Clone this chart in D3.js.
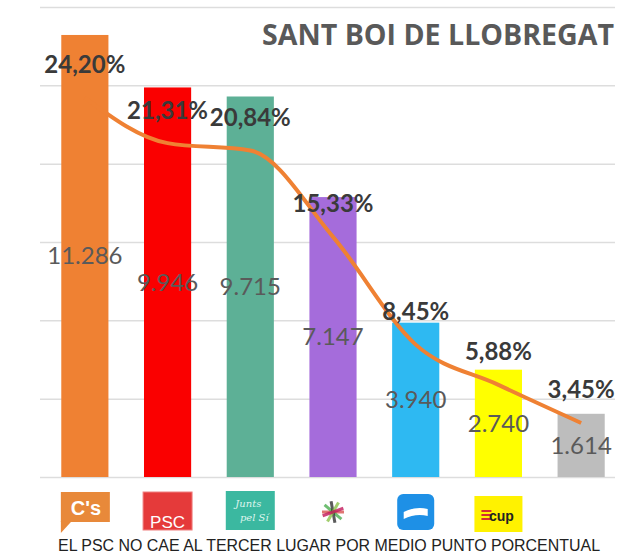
<!DOCTYPE html>
<html>
<head>
<meta charset="utf-8">
<script src="https://cdn.jsdelivr.net/npm/d3@7"></script>
<style>
  body { margin: 0; background: #fff; }
  svg { display: block; }
</style>
</head>
<body>
<div id="chart"></div>
<script>
// datos
const partidos = ["Cs", "PSC", "JxSi", "CSQP", "PP", "CUP", "Unio"];
const votos = [11286, 9946, 9715, 7147, 3940, 2740, 1614];
const porcentajes = [24.20, 21.31, 20.84, 15.33, 8.45, 5.88, 3.45];
const colores = ["#EF8133", "#FA0000", "#5DB096", "#A56CDB", "#2EB9F2", "#FFFF00", "#BDBDBD"];
const votosTicks = [0, 2000, 4000, 6000, 8000, 10000, 12000];
const titulo = "SANT BOI DE LLOBREGAT";
const pie = "EL PSC NO CAE AL TERCER LUGAR POR MEDIO PUNTO PORCENTUAL";

const fmtPct = d => d.toFixed(2).replace(".", ",") + "%";
const fmtVotos = d => d3.format(",")(d).replace(",", ".");

const width = 623, height = 558;
const svg = d3.select("#chart").append("svg")
  .attr("width", width)
  .attr("height", height);

const x = d3.scaleBand()
  .domain(partidos)
  .range([43.5, 622.5])
  .paddingInner(0.43)
  .paddingOuter(0.215);

const yVotos = d3.scaleLinear().domain([0, 12000]).range([477, 7]);
const yPct = d3.scaleLinear().domain([0, 30]).range([477, 7]);

// lineas de cuadricula
const grid = svg.append("g")
  .attr("transform", "translate(40,0)")
  .call(d3.axisLeft(yVotos).tickValues(votosTicks).tickSize(-575).tickFormat(""));
grid.select(".domain").remove();
grid.selectAll("line").attr("stroke", "#DDDDDD").attr("stroke-width", 1.5);

// titulo
svg.append("text")
  .attr("x", 614).attr("y", 45)
  .attr("text-anchor", "end")
  .attr("font-family", "Open Sans")
  .attr("font-weight", "bold")
  .attr("font-size", 28)
  .attr("textLength", 352)
  .attr("lengthAdjust", "spacingAndGlyphs")
  .attr("fill", "#595959")
  .text(titulo);

// barras
svg.selectAll(".bar")
  .data(partidos)
  .join("rect")
  .attr("class", "bar")
  .attr("x", d => x(d))
  .attr("width", x.bandwidth())
  .attr("y", (d, i) => yVotos(votos[i]))
  .attr("height", (d, i) => yVotos(0) - yVotos(votos[i]))
  .attr("fill", (d, i) => colores[i]);

// linea de porcentaje
const linea = d3.line()
  .x((d, i) => x(partidos[i]) + x.bandwidth() / 2)
  .y(d => yPct(d))
  .curve(d3.curveMonotoneX);

svg.append("path")
  .datum(porcentajes)
  .attr("d", linea)
  .attr("fill", "none")
  .attr("stroke", "#EF8133")
  .attr("stroke-width", 4)
  .attr("stroke-linejoin", "round");

// votos en el centro de la barra
svg.selectAll(".votos")
  .data(votos)
  .join("text")
  .attr("class", "votos")
  .attr("x", (d, i) => x(partidos[i]) + x.bandwidth() / 2)
  .attr("y", d => (yVotos(d) + yVotos(0)) / 2)
  .attr("dy", "0.35em")
  .attr("text-anchor", "middle")
  .attr("font-family", "Lato")
  .attr("font-size", 24)
  .attr("fill", "#5a5a5a")
  .text(fmtVotos);

// porcentajes encima de la linea
svg.selectAll(".pct")
  .data(porcentajes)
  .join("text")
  .attr("class", "pct")
  .attr("x", (d, i) => x(partidos[i]) + x.bandwidth() / 2)
  .attr("y", d => yPct(d) - 33)
  .attr("dy", "0.35em")
  .attr("text-anchor", "middle")
  .attr("font-family", "Lato")
  .attr("font-weight", "bold")
  .attr("font-size", 24)
  .attr("fill", "#3a3a3a")
  .text(fmtPct);

// logos (aproximados)
const logos = svg.append("g");
function cx(p) { return x(p) + x.bandwidth() / 2; }

// C's
let c = cx("Cs");
logos.append("rect").attr("x", c - 24).attr("y", 492).attr("width", 49).attr("height", 30).attr("fill", "#E8893A");
logos.append("path").attr("d", `M${c - 24},521 L${c - 24},533 L${c - 13},521 Z`).attr("fill", "#E8893A");
logos.append("text").attr("x", c + 1).attr("y", 515).attr("text-anchor", "middle")
  .attr("font-family", "Liberation Sans").attr("font-weight", "bold").attr("font-size", 20)
  .attr("fill", "#fff").text("C's");

// PSC
c = cx("PSC");
logos.append("rect").attr("x", c - 24.5).attr("y", 492).attr("width", 49).attr("height", 38)
  .attr("fill", "#E53A3A").attr("stroke", "#F08080").attr("stroke-width", 1);
logos.append("text").attr("x", c).attr("y", 528).attr("text-anchor", "middle")
  .attr("font-family", "Liberation Sans").attr("font-size", 17)
  .attr("fill", "#fff").text("PSC");

// Junts pel Si
c = cx("JxSi");
logos.append("rect").attr("x", c - 24.5).attr("y", 491).attr("width", 49).attr("height", 39).attr("fill", "#3BB8A0");
logos.append("text").attr("x", c - 2).attr("y", 507).attr("text-anchor", "middle")
  .attr("font-family", "DejaVu Serif").attr("font-style", "italic").attr("font-size", 10)
  .attr("fill", "#DFF5EE").text("Junts");
logos.append("text").attr("x", c + 4).attr("y", 521).attr("text-anchor", "middle")
  .attr("font-family", "DejaVu Serif").attr("font-style", "italic").attr("font-size", 10)
  .attr("fill", "#DFF5EE").text("pel Sí");

// CSQP (estrella)
c = cx("CSQP");
const rayos = [["#D9534F", 0], ["#4CAF50", 40], ["#333", 80], ["#8BC34A", 120], ["#C2185B", 160]];
rayos.forEach(([col, ang]) => {
  const a = ang * Math.PI / 180;
  logos.append("line")
    .attr("x1", c - 11 * Math.cos(a)).attr("y1", 512 - 11 * Math.sin(a))
    .attr("x2", c + 11 * Math.cos(a)).attr("y2", 512 + 11 * Math.sin(a))
    .attr("stroke", col).attr("stroke-width", 3).attr("opacity", 0.8);
});

// PP
c = cx("PP");
logos.append("rect").attr("x", c - 18.5).attr("y", 494).attr("width", 37).attr("height", 36).attr("rx", 6).attr("fill", "#1E90E6");
logos.append("path").attr("d", `M${c - 12},512 Q${c},506 ${c + 12},509 L${c + 12},516 Q${c},513 ${c - 12},519 Z`).attr("fill", "#fff");

// CUP
c = cx("CUP");
logos.append("rect").attr("x", c - 24).attr("y", 496).attr("width", 48).attr("height", 36).attr("fill", "#FFF200");
[0, 1, 2].forEach(k => {
  logos.append("rect").attr("x", c - 17).attr("y", 510 + k * 4).attr("width", 10).attr("height", 2).attr("fill", "#D32F2F");
});
logos.append("text").attr("x", c + 3).attr("y", 521).attr("text-anchor", "middle")
  .attr("font-family", "Liberation Sans").attr("font-weight", "bold").attr("font-size", 14)
  .attr("fill", "#222").text("cup");

// pie de grafico
svg.append("text")
  .attr("x", 329).attr("y", 551)
  .attr("text-anchor", "middle")
  .attr("font-family", "Liberation Sans")
  .attr("font-size", 16)
  .attr("textLength", 542)
  .attr("lengthAdjust", "spacingAndGlyphs")
  .attr("fill", "#222")
  .text(pie);
</script>
</body>
</html>
